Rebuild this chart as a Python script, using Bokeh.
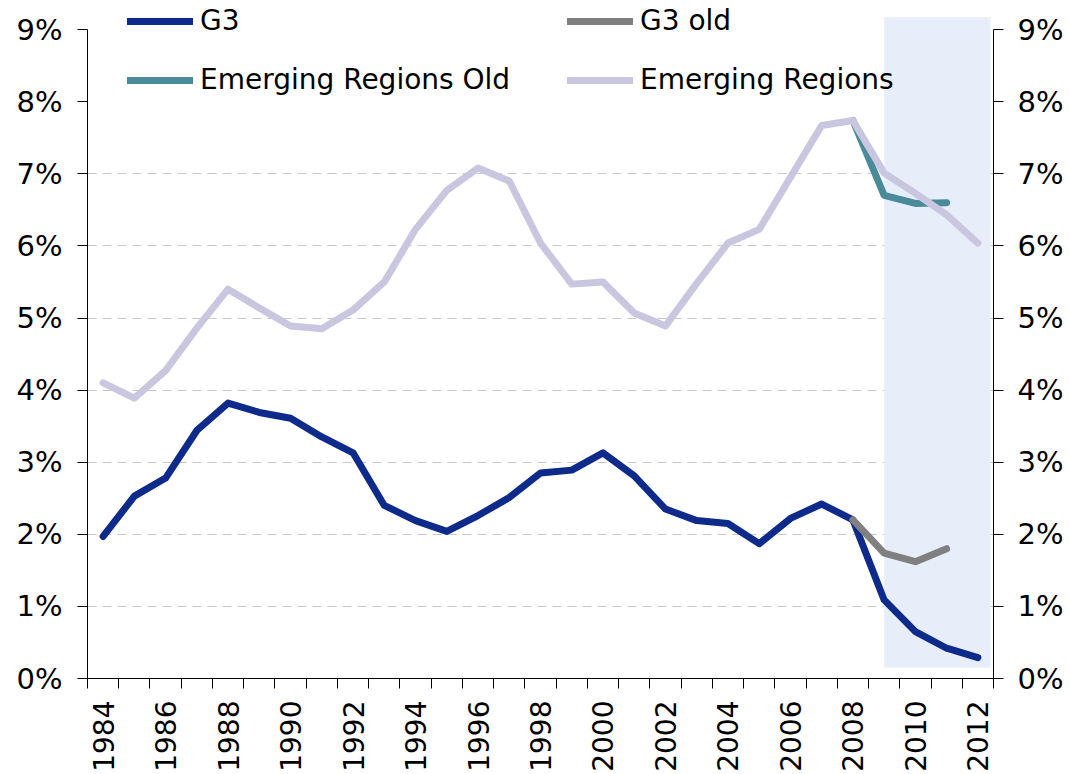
import math
from bokeh.plotting import figure
from bokeh.models import (Range1d, LinearAxis, FixedTicker, PrintfTickFormatter,
                          Legend, LegendItem)
from bokeh.embed import file_html
from bokeh.resources import INLINE

# ---------------- data ----------------
years = list(range(1984, 2013))
g3 = [1.97, 2.53, 2.78, 3.44, 3.82, 3.69, 3.61, 3.35, 3.13, 2.40,
      2.19, 2.04, 2.26, 2.51, 2.85, 2.89, 3.13, 2.81, 2.35, 2.19,
      2.15, 1.87, 2.22, 2.42, 2.20, 1.09, 0.65, 0.42, 0.29]
g3_old_years = [2008, 2009, 2010, 2011]
g3_old = [2.20, 1.74, 1.62, 1.80]
em = [4.10, 3.89, 4.27, 4.86, 5.40, 5.14, 4.89, 4.85, 5.11, 5.50,
      6.23, 6.77, 7.08, 6.90, 6.04, 5.47, 5.50, 5.07, 4.89, 5.48,
      6.04, 6.23, 6.95, 7.67, 7.74, 7.01, 6.73, 6.43, 6.04]
em_old_years = [2008, 2009, 2010, 2011]
em_old = [7.74, 6.70, 6.59, 6.60]
forecast_start = 2009
y_ticks = list(range(0, 10))
label_years = years[::2]

FONT = "DejaVu Sans"
C_G3 = "#0E2A8A"
C_G3OLD = "#808080"
C_EMOLD = "#4A8A99"
C_EM = "#C9C7E0"
C_SHADE = "#E8EEF9"

p = figure(width=1070, height=774, output_backend="svg", toolbar_location=None,
           x_range=Range1d(years[0] - 0.5, years[-1] + 0.5),
           y_range=Range1d(0, 9.404),
           min_border_left=87, min_border_right=77, min_border_top=0,
           min_border_bottom=95)
p.outline_line_color = None
p.background_fill_color = "white"
p.border_fill_color = "white"

# shaded forecast period
p.quad(left=[forecast_start], right=[years[-1] + 0.4], bottom=[0.15], top=[9.17],
       fill_color=C_SHADE, line_color=None)

# lines
common = dict(line_width=7, line_cap="round", line_join="round")
r_g3 = p.line(years, g3, line_color=C_G3, **common)
r_g3o = p.line(g3_old_years, g3_old, line_color=C_G3OLD, **common)
r_emo = p.line(em_old_years, em_old, line_color=C_EMOLD, **common)
r_em = p.line(years, em, line_color=C_EM, **common)

# grid
p.xgrid.grid_line_color = None
p.ygrid.ticker = FixedTicker(ticks=y_ticks[1:8])
p.ygrid.grid_line_color = "#C8C8C8"
p.ygrid.grid_line_dash = "9 6"
p.ygrid.grid_line_width = 1

# x axis: labels on even years, tick marks at category boundaries
xa = p.xaxis[0]
xa.ticker = FixedTicker(ticks=label_years,
                        minor_ticks=[y - 0.5 for y in years] + [years[-1] + 0.5])
xa.major_tick_in = 0
xa.major_tick_out = 0
xa.minor_tick_in = 0
xa.minor_tick_out = 10
xa.minor_tick_line_color = "black"
xa.axis_line_color = "black"
xa.major_label_orientation = math.pi / 2
xa.major_label_text_font = FONT
xa.major_label_text_font_size = "28px"
xa.major_label_text_color = "black"
xa.major_label_standoff = 12

# y axes
def style_y(ax, standoff):
    ax.ticker = FixedTicker(ticks=y_ticks, minor_ticks=[])
    ax.formatter = PrintfTickFormatter(format="%d%%")
    ax.bounds = (0, 9)
    ax.major_tick_in = 0
    ax.major_tick_out = 10
    ax.minor_tick_line_color = None
    ax.axis_line_color = "black"
    ax.major_tick_line_color = "black"
    ax.major_label_text_font = FONT
    ax.major_label_text_font_size = "29px"
    ax.major_label_text_color = "black"
    ax.major_label_standoff = standoff

style_y(p.yaxis[0], 15)
ra = LinearAxis()
style_y(ra, 14)
p.add_layout(ra, "right")

# legend
legend = Legend(items=[LegendItem(label="G3", renderers=[r_g3]),
                       LegendItem(label="G3 old", renderers=[r_g3o]),
                       LegendItem(label="Emerging Regions Old", renderers=[r_emo]),
                       LegendItem(label="Emerging Regions", renderers=[r_em])],
                orientation="horizontal", ncols=2,
                location=(40, 582))
legend.padding = 0
legend.margin = 0
legend.spacing = 26
legend.glyph_width = 66
legend.glyph_height = 20
legend.label_standoff = 7
legend.label_width = 341
legend.label_text_font = FONT
legend.label_text_font_size = "28px"
legend.label_text_color = "black"
legend.background_fill_alpha = 0
legend.border_line_color = None
p.add_layout(legend, "center")

open("out.html", "w").write(file_html(p, INLINE))
